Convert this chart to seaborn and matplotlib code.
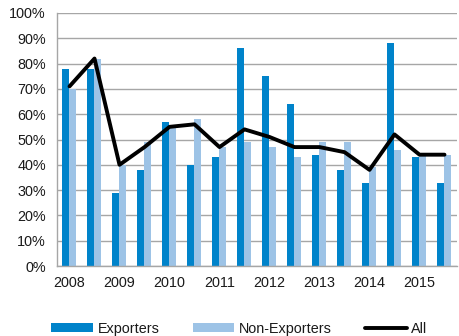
import matplotlib
matplotlib.use("Agg")
import matplotlib.pyplot as plt
from matplotlib.patches import Patch
from matplotlib.lines import Line2D
from matplotlib.ticker import FuncFormatter
import numpy as np
import pandas as pd
import seaborn as sns

# Half-yearly shares (%), two periods per year
years = ["2008", "2009", "2010", "2011", "2012", "2013", "2014", "2015"]
periods = list(range(16))
exporters = [78, 78, 29, 38, 57, 40, 43, 86, 75, 64, 44, 38, 33, 88, 43, 33]
non_exporters = [70, 82, 40, 49, 55, 58, 47, 49, 47, 43, 49, 49, 39, 46, 44, 44]
all_firms = [71, 82, 40, 47, 55, 56, 47, 54, 51, 47, 47, 45, 38, 52, 44, 44]

c_exp = "#0083CA"
c_non = "#9DC3E6"
fs = 10.4

sns.set_theme(style="white")
plt.rcParams["font.family"] = ["Liberation Sans", "DejaVu Sans"]

bars = pd.DataFrame({
    "period": periods * 2,
    "value": exporters + non_exporters,
    "group": ["Exporters"] * 16 + ["Non-Exporters"] * 16,
})

fig = plt.figure(figsize=(4.6, 3.36), dpi=100)
ax = fig.add_axes([57 / 460, 70 / 336, 400 / 460, 253 / 336])

sns.barplot(data=bars, x="period", y="value", hue="group",
            palette=[c_exp, c_non], width=0.56, saturation=1,
            linewidth=0, legend=False, ax=ax, zorder=2)
sns.lineplot(x=periods, y=all_firms, color="black", linewidth=2.8,
             ax=ax, zorder=3)

ax.set_xlim(-0.5, 15.5)
ax.set_ylim(0, 100)
ax.set_yticks(np.arange(0, 101, 10))
ax.yaxis.set_major_formatter(FuncFormatter(lambda v, _: f"{int(v)}%"))
ax.grid(axis="y", color="#A6A6A6", linewidth=1, zorder=0)
ax.set_axisbelow(True)

ax.set_xticks(np.arange(0, 16, 2))
ax.set_xticklabels(years)
ax.set_xticks(np.arange(-0.5, 16, 1), minor=True)
ax.tick_params(axis="x", which="major", length=0, pad=7, labelsize=fs,
               labelcolor="#1a1a1a")
ax.tick_params(axis="x", which="minor", length=5, width=1, color="#A6A6A6",
               direction="out")
ax.tick_params(axis="y", length=5, width=1, color="#A6A6A6", direction="out",
               labelsize=fs, labelcolor="#1a1a1a", pad=3)
ax.set_xlabel("")
ax.set_ylabel("")

for side in ["top", "right"]:
    ax.spines[side].set_visible(False)
for side in ["left", "bottom"]:
    ax.spines[side].set_color("#A6A6A6")
    ax.spines[side].set_linewidth(1)

handles = [
    Patch(facecolor=c_exp, edgecolor="none", label="Exporters"),
    Patch(facecolor=c_non, edgecolor="none", label="Non-Exporters"),
    Line2D([0], [0], color="black", linewidth=2.8, label="All"),
]
fig.legend(handles=handles, loc="center", bbox_to_anchor=(0.52, 0.022),
           ncol=3, frameon=False, fontsize=fs, handlelength=2.9,
           handleheight=0.5, handletextpad=0.3, columnspacing=2.3,
           labelcolor="#1a1a1a")

fig.savefig("out.png", dpi=100)
